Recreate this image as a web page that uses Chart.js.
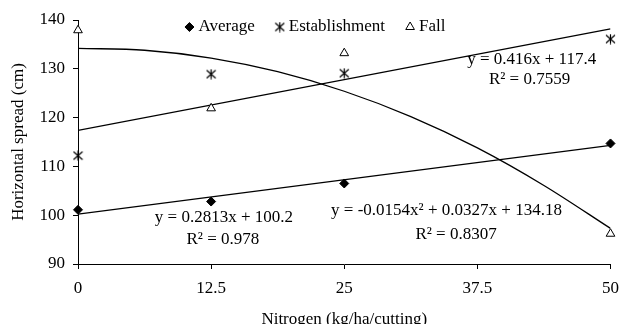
<!DOCTYPE html>
<html>
<head>
<meta charset="utf-8">
<script src="https://cdn.jsdelivr.net/npm/chart.js@4.4.0/dist/chart.umd.min.js"></script>
<style>
  html, body { margin: 0; padding: 0; background: #fff; }
  #wrap { width: 628px; height: 324px; }
</style>
</head>
<body>
<div id="wrap"><canvas id="spread"></canvas></div>
<script>
// nitrogen doses (x)
const nitrogen = [0, 12.5, 25, 50];
const xTicks = [0, 12.5, 25, 37.5, 50];
const yTicks = [90, 100, 110, 120, 130, 140];

// observed horizontal spread (cm)
const average = [101.1, 102.8, 106.5, 114.7];
const establishment = [112.2, 128.9, 129.1, 136.1];
const fall = [137.9, 121.9, 133.2, 96.2];

// fitted lines
const avgTrendX = [0, 50];
const avgTrendY = [100.2, 114.3];
const estTrendX = [0, 50];
const estTrendY = [117.4, 138.2];
const fallTrendX = [0, 6.25, 12.5, 18.75, 25, 31.25, 37.5, 43.75, 50];
const fallTrendY = [134.2, 133.8, 132.2, 129.4, 125.4, 120.2, 113.8, 106.1, 97.3];

const equations = [
    { text: 'y = 0.416x + 117.4', x: 42.6, y: 132.0 },
    { text: 'R\u00b2 = 0.7559', x: 42.4, y: 127.7 },
    { text: 'y = 0.2813x + 100.2', x: 13.7, y: 99.5 },
    { text: 'R\u00b2 = 0.978', x: 13.6, y: 95.1 },
    { text: 'y = -0.0154x\u00b2 + 0.0327x + 134.18', x: 34.6, y: 100.9 },
    { text: 'R\u00b2 = 0.8307', x: 35.5, y: 96.0 }
];

const FONT = 'Liberation Serif';
const SIZE = 17;
const CSS_FONT = SIZE + 'px "' + FONT + '", serif';

function pairs(xs, ys) {
    return xs.map((x, i) => ({ x: x, y: ys[i] }));
}

// asterisk marker: vertical bar plus two diagonals
function makeAsterisk() {
    const c = document.createElement('canvas');
    c.width = 11; c.height = 11;
    const g = c.getContext('2d');
    g.strokeStyle = '#000';
    g.lineWidth = 1.2;
    g.beginPath();
    g.moveTo(5.5, 0.5); g.lineTo(5.5, 10.5);
    g.moveTo(1, 1.5); g.lineTo(10, 9.5);
    g.moveTo(10, 1.5); g.lineTo(1, 9.5);
    g.stroke();
    return c;
}
const asterisk = makeAsterisk();

const equationText = {
    id: 'equationText',
    afterDatasetsDraw(chart) {
        const ctx = chart.ctx;
        const xs = chart.scales.x, ys = chart.scales.y;
        ctx.save();
        ctx.font = CSS_FONT;
        ctx.fillStyle = '#000';
        ctx.textAlign = 'center';
        ctx.textBaseline = 'middle';
        equations.forEach(e => {
            ctx.fillText(e.text, xs.getPixelForValue(e.x), ys.getPixelForValue(e.y));
        });
        ctx.restore();
    }
};

// one-row legend sitting inside the top of the plot
const innerLegend = {
    id: 'innerLegend',
    afterDatasetsDraw(chart) {
        const ctx = chart.ctx;
        const items = chart.data.datasets.filter(d => !d.label.endsWith('Trend'));
        ctx.save();
        ctx.font = CSS_FONT;
        const widths = items.map(d => 10 + 4 + ctx.measureText(d.label).width);
        const total = widths.reduce((a, b) => a + b, 0) + 20 * (items.length - 1);
        let x = chart.width / 2 + 1 - total / 2;
        const y = chart.chartArea.top + 7;
        items.forEach((d, i) => {
            ctx.fillStyle = d.backgroundColor;
            ctx.strokeStyle = d.borderColor;
            ctx.lineWidth = 1;
            Chart.helpers.drawPoint(ctx, {
                pointStyle: d.pointStyle,
                radius: d.pointRadius || 4,
                rotation: 0,
                borderWidth: 1
            }, x + 5, y);
            ctx.font = CSS_FONT;
            ctx.textBaseline = 'middle';
            ctx.textAlign = 'left';
            ctx.fillStyle = '#000';
            ctx.fillText(d.label, x + 14, y);
            x += widths[i] + 20;
        });
        ctx.restore();
    }
};

const trendStyle = {
    type: 'line',
    borderColor: '#000',
    borderWidth: 1.3,
    pointRadius: 0,
    fill: false
};

new Chart(document.getElementById('spread'), {
    type: 'scatter',
    data: {
        datasets: [
            { label: 'Average', data: pairs(nitrogen, average), pointStyle: 'rectRot', pointRadius: 4.5,
              backgroundColor: '#000', borderColor: '#000', borderWidth: 1, clip: false },
            { label: 'Establishment', data: pairs(nitrogen, establishment), pointStyle: asterisk,
              backgroundColor: '#000', borderColor: '#000', clip: false },
            { label: 'Fall', data: pairs(nitrogen, fall), pointStyle: 'triangle', pointRadius: 5,
              backgroundColor: '#fff', borderColor: '#000', borderWidth: 1, clip: false },
            Object.assign({ label: 'avgTrend', data: pairs(avgTrendX, avgTrendY) }, trendStyle),
            Object.assign({ label: 'estTrend', data: pairs(estTrendX, estTrendY) }, trendStyle),
            Object.assign({ label: 'fallTrend', data: pairs(fallTrendX, fallTrendY), cubicInterpolationMode: 'monotone' }, trendStyle)
        ]
    },
    options: {
        responsive: true,
        maintainAspectRatio: false,
        animation: false,
        layout: { padding: { left: 0, right: 10, top: 20, bottom: 0 } },
        plugins: {
            legend: { display: false },
            tooltip: { enabled: false }
        },
        scales: {
            x: {
                type: 'linear',
                min: 0,
                max: 50,
                afterBuildTicks: axis => { axis.ticks = xTicks.map(v => ({ value: v })); },
                grid: { drawOnChartArea: false, drawTicks: true, tickLength: 5, color: '#000' },
                border: { display: true, color: '#000', width: 1 },
                ticks: { color: '#000', font: { family: FONT, size: SIZE }, padding: 9, maxRotation: 0 },
                title: { display: true, text: 'Nitrogen (kg/ha/cutting)', color: '#000',
                         font: { family: FONT, size: SIZE }, padding: { top: 2.4, bottom: -6.2 } }
            },
            y: {
                min: 90,
                max: 140,
                afterBuildTicks: axis => { axis.ticks = yTicks.map(v => ({ value: v })); },
                grid: { drawOnChartArea: false, drawTicks: true, tickLength: 5, color: '#000' },
                border: { display: true, color: '#000', width: 1 },
                ticks: { color: '#000', font: { family: FONT, size: SIZE }, padding: 8 },
                title: { display: true, text: 'Horizontal spread (cm)', color: '#000',
                         font: { family: FONT, size: SIZE }, padding: { top: 8.8, bottom: 2.3 } }
            }
        }
    },
    plugins: [equationText, innerLegend]
});
</script>
</body>
</html>
